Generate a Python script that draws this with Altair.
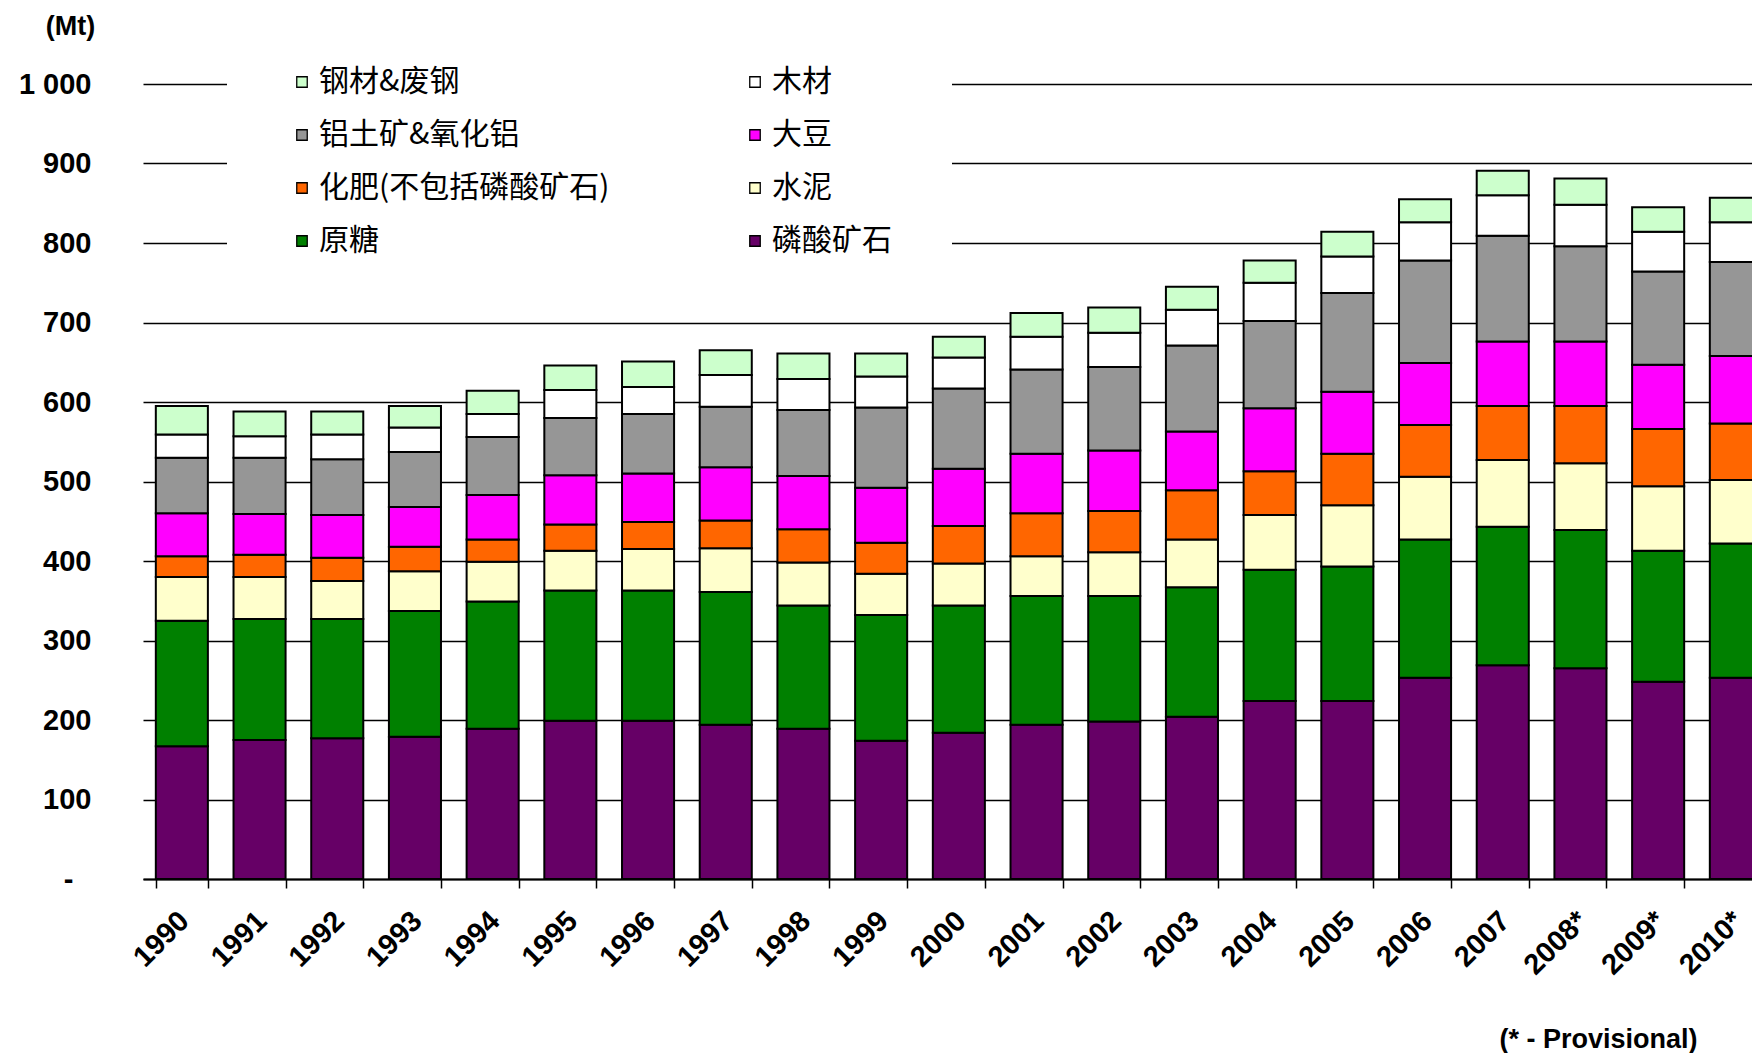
import altair as alt
import pandas as pd

years = ["1990", "1991", "1992", "1993", "1994", "1995", "1996", "1997", "1998",
         "1999", "2000", "2001", "2002", "2003", "2004", "2005", "2006", "2007",
         "2008*", "2009*", "2010*"]

# legend order (filled column by column: left column, then right column)
series = ["钢材&废钢", "铝土矿&氧化铝", "化肥(不包括磷酸矿石)", "原糖",
          "木材", "大豆", "水泥", "磷酸矿石"]
colors = ["#CCFFCC", "#969696", "#FF6600", "#008000",
          "#FFFFFF", "#FF00FF", "#FFFFCC", "#660066"]

phosphate = [167, 175, 177, 179, 189, 199, 199, 194, 189, 174, 184, 194, 198, 204, 224, 224, 253, 269, 265, 248, 253]
sugar     = [158, 152, 150, 158, 160, 164, 164, 167, 155, 158, 160, 162, 158, 163, 165, 169, 174, 174, 174, 165, 169]
cement    = [55, 53, 48, 50, 50, 50, 52, 55, 54, 52, 53, 50, 55, 60, 69, 77, 79, 84, 84, 81, 80]
fertiliser = [26, 28, 29, 31, 28, 33, 34, 35, 42, 39, 47, 54, 52, 62, 55, 65, 65, 68, 72, 72, 71]
soybeans  = [54, 51, 54, 50, 56, 62, 61, 67, 67, 69, 72, 75, 76, 74, 79, 78, 78, 81, 81, 81, 85]
bauxite   = [70, 71, 70, 69, 73, 72, 75, 76, 83, 101, 101, 106, 105, 108, 110, 124, 129, 133, 120, 117, 118]
wood      = [29, 27, 31, 31, 29, 35, 34, 40, 39, 39, 39, 41, 43, 45, 48, 46, 48, 51, 52, 50, 50]
steel     = [36, 31, 29, 27, 29, 31, 32, 31, 32, 29, 26, 30, 32, 29, 28, 31, 29, 31, 33, 31, 31]

# bottom -> top
stack_series = [
    ("磷酸矿石", phosphate),
    ("原糖", sugar),
    ("水泥", cement),
    ("化肥(不包括磷酸矿石)", fertiliser),
    ("大豆", soybeans),
    ("铝土矿&氧化铝", bauxite),
    ("木材", wood),
    ("钢材&废钢", steel),
]

rows = []
for k, (name, vals) in enumerate(stack_series):
    for yr, v in zip(years, vals):
        rows.append({"year": yr, "series": name, "value": v, "stack": k})
df = pd.DataFrame(rows)

band_step = 77.7
x_range = [0, band_step * len(years)]

y_label_pad = {"condition": {"test": "datum.value == 0", "value": 70}, "value": 52}

chart = alt.Chart(df).mark_bar(stroke="black", strokeWidth=2).encode(
    x=alt.X(
        "year:N",
        sort=years,
        scale=alt.Scale(range=x_range, paddingInner=0.33, paddingOuter=0.165),
        axis=alt.Axis(
            title="(* - Provisional)",
            titleX=1554, titleY=168, titleAlign="right", titleBaseline="alphabetic",
            titleFont="Liberation Sans", titleFontSize=27, titleFontWeight="bold",
            titleColor="black",
            labelAngle=-45, labelFont="Liberation Sans", labelFontSize=29,
            labelFontWeight="bold", labelColor="black", labelPadding=18, labelOffset=-8,
            labelOverlap=False,
            tickBand="extent", tickSize=9, tickColor="black", tickWidth=1.5,
            domainColor="black", domainWidth=2, grid=False,
        ),
    ),
    y=alt.Y(
        "value:Q",
        stack="zero",
        scale=alt.Scale(domain=[0, 1000], nice=False),
        axis=alt.Axis(
            title="(Mt)", titleAngle=0, titleX=-73, titleY=-50,
            titleAlign="center", titleBaseline="alphabetic",
            titleFont="Liberation Sans", titleFontSize=27, titleFontWeight="bold",
            titleColor="black",
            values=list(range(0, 1001, 100)),
            labelExpr="datum.value == 0 ? '-' : replace(format(datum.value, ','), ',', ' ')",
            labelFont="Liberation Sans", labelFontSize=29, labelFontWeight="bold",
            labelColor="black", labelPadding=y_label_pad,
            domain=False, ticks=False,
            grid=True, gridColor="black", gridWidth=1.3,
        ),
    ),
    color=alt.Color(
        "series:N",
        scale=alt.Scale(domain=series, range=colors),
        legend=alt.Legend(
            orient="none", legendX=84, legendY=-77,
            columns=2, gridAlign="all", title=None,
            symbolType="square", symbolSize=110,
            symbolStrokeColor="black", symbolStrokeWidth=1.3, symbolOpacity=1,
            labelFont="Noto Sans CJK SC", labelFontSize=30, labelColor="black",
            labelOffset=2, labelLimit=600,
            rowPadding=23, columnPadding=130, padding=60,
            fillColor="white",
        ),
    ),
    order=alt.Order("stack:Q", sort="ascending"),
).properties(
    width=1609,
    height=795,
    autosize=alt.AutoSizeParams(type="none"),
    padding={"left": 135, "top": 76, "right": 0, "bottom": 174},
    background="white",
).configure_view(stroke=None)

chart.save("out.html", embed_options={"renderer": "svg", "actions": False})
